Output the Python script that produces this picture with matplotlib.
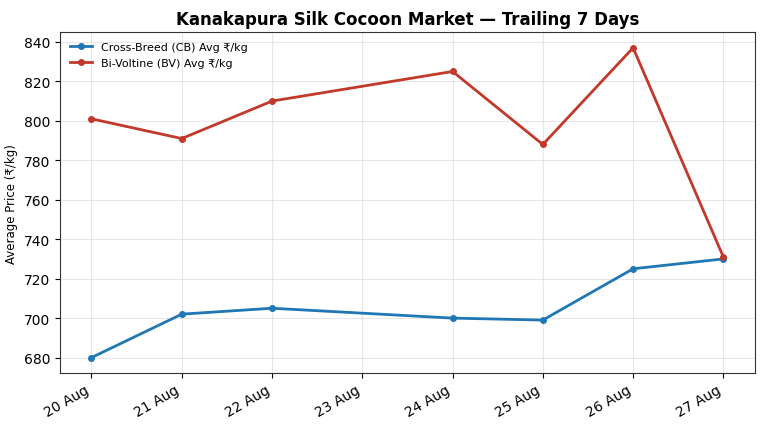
from datetime import datetime

import matplotlib
matplotlib.use("Agg")
import matplotlib.pyplot as plt
import matplotlib.dates as mdates

dates = ["2024-08-20", "2024-08-21", "2024-08-22", "2024-08-24",
         "2024-08-25", "2024-08-26", "2024-08-27"]
cb_avg = [680, 702, 705, 700, 699, 725, 730]
bv_avg = [801, 791, 810, 825, 788, 837, 731]

x = [datetime.strptime(d, "%Y-%m-%d") for d in dates]

fig, ax = plt.subplots(figsize=(7.68, 4.27), dpi=100)
ax.plot(x, cb_avg, marker="o", markersize=4, linewidth=2, color="#1f77b4",
        label="Cross-Breed (CB) Avg ₹/kg")
ax.plot(x, bv_avg, marker="o", markersize=4, linewidth=2, color="#c0392b",
        label="Bi-Voltine (BV) Avg ₹/kg")

ax.set_title("Kanakapura Silk Cocoon Market — Trailing 7 Days",
             fontsize=12, fontweight="bold")
ax.set_ylabel("Average Price (₹/kg)", fontsize=8.5)
ax.xaxis.set_major_locator(mdates.DayLocator())
ax.xaxis.set_major_formatter(mdates.DateFormatter("%d Aug"))
ax.grid(True, alpha=0.3)
for s in ax.spines.values():
    s.set_color("#333333")
ax.legend(loc="upper left", frameon=False, fontsize=8)
fig.autofmt_xdate()
fig.subplots_adjust(left=0.078, right=0.983, top=0.922, bottom=0.124)
fig.savefig("out.png", dpi=100)
